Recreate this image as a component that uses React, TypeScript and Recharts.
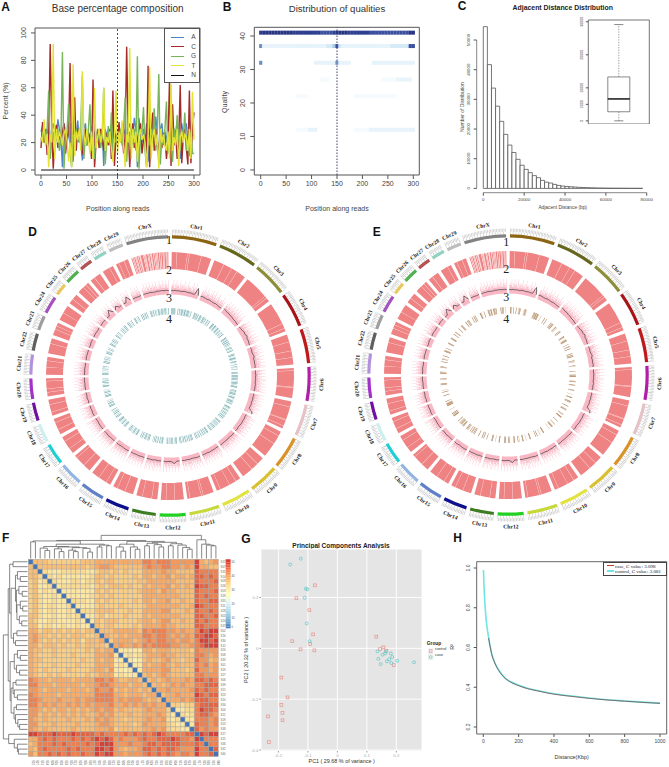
import React from "react";
import {
  LineChart, Line, XAxis, YAxis, ReferenceLine, ReferenceArea, ScatterChart, Scatter, BarChart, Bar,
  ComposedChart, PieChart, Pie, CartesianGrid,
} from "recharts";

/* ---------- Panel A ---------- */
const posA = [0,3,6,9,12,15,18,21,24,27,30,33,36,39,42,45,48,51,54,57,60,63,66,69,72,75,78,81,84,87,90,93,96,99,102,105,108,111,114,117,120,123,126,129,132,135,138,141,144,147,150,153,156,159,162,165,168,171,174,177,180,183,186,189,192,195,198,201,204,207,210,213,216,219,222,225,228,231,234,237,240,243,246,249,252,255,258,261,264,267,270,273,276,279,282,285,288,291,294,297,300];
const baseA = [28,32,24,20,30,26,12,30,34,28,22,37,30,24,2,34,28,20,30,18,34,6,30,24,36,20,28,7,30,34,22,28,20,32,16,28,22,30,26,20,30,3,30,24,28,20,32,14,30,22,26,32,24,20,30,26,12,30,34,28,22,38,30,2,38,28,20,30,18,34,6,30,24,36,20,39,28,5,30,34,22,28,20,32,14,28,22,30,26,36,20,8,34,24,28,34,20,30,24,26,25];
const baseC = [16,35,20,30,11,25,92,30,1,22,33,16,28,20,28,34,12,22,28,78,6,24,53,14,30,22,32,12,14,30,18,27,24,8,66,2,20,28,16,30,24,14,28,25,18,30,8,58,3,26,18,35,20,30,12,25,90,30,2,22,34,16,28,20,28,34,12,22,26,12,76,2,24,42,14,30,22,10,30,16,27,24,8,20,66,3,48,18,27,8,20,62,5,24,30,16,4,58,5,30,42];
const baseG = [22,26,30,18,30,58,8,24,28,16,26,30,14,22,86,1,22,28,48,12,2,26,18,30,25,20,34,69,8,24,18,30,48,14,24,8,26,20,30,16,24,60,4,22,32,18,42,12,24,20,26,22,30,18,30,53,6,24,28,16,26,30,14,83,1,22,28,46,14,2,26,18,30,24,45,14,26,70,4,24,18,30,50,12,26,18,6,30,20,40,24,14,30,24,42,14,22,10,28,12,12];
const baseT = [24,20,37,18,26,2,26,20,92,8,30,20,28,24,18,26,30,22,6,20,2,77,10,28,22,30,14,72,26,18,30,22,12,28,8,60,16,24,30,20,26,60,14,24,20,28,16,6,24,58,12,28,20,36,18,2,26,20,89,8,30,20,28,6,24,30,22,26,20,2,22,75,8,24,30,18,26,1,30,20,26,18,14,28,8,63,14,24,18,30,3,24,28,20,26,24,14,30,8,57,22];
const baseN = [0,0,0,0,0,0,0,0,0,0,0,0,0,0,0,0,0,0,0,0,0,0,0,0,0,0,0,0,0,0,0,0,0,0,0,0,0,0,0,0,0,0,0,0,0,0,0,0,0,0,0,0,0,0,0,0,0,0,0,0,0,0,0,0,0,0,0,0,0,0,0,0,0,0,0,0,0,0,0,0,0,0,0,0,0,0,0,0,0,0,0,0,0,0,0,0,0,0,0,0,0];
const tableA = posA.map((p, i) => ({ p, A: baseA[i], C: baseC[i], G: baseG[i], T: baseT[i], N: baseN[i] }));
const legendA = ["A", "C", "G", "T", "N"];
const colorsA = ["#4F86C6", "#A52A2A", "#78B45A", "#E4E234", "#111111"];

/* ---------- Panel B ---------- */
const posB = [0,6,12,18,24,30,36,42,48,54,60,66,72,78,84,90,96,102,108,114,120,126,132,138,144,150,156,162,168,174,180,186,192,198,204,210,216,222,228,234,240,246,252,258,264,270,276,282,288,294,300];
const qual41 = [8,9,9,9,9,9,9,9,9,9,9,8,8,8,8,8,8,8,8,8,7,7,7,7,8,9,9,9,9,8,8,8,8,8,8,8,7,7,7,7,7,7,7,7,7,7,7,7,7,9,9];
const qual37 = [5,1,1,1,1,1,1,1,1,1,1,1,1,1,1,1,1,1,1,1,1,1,2,2,3,7,2,1,1,1,1,1,1,1,1,1,1,1,1,1,1,1,1,2,2,2,2,2,2,7,7];
const qual32 = [5,0,0,0,0,0,0,0,0,0,0,0,0,0,0,0,0,0,1,1,1,1,1,1,1,5,1,1,1,1,0,0,0,0,0,0,0,1,1,1,1,1,1,1,1,1,1,1,1,1,1];
const qual27 = [0,0,0,0,0,0,0,0,0,0,0,0,0,0,0,0,0,0,0,0,0.5,0.5,0.5,0,0,0,0,0,0,0,0,0,0,0,0,0,0,0,0,0,0.5,0.5,0.5,0.5,0.5,1,1,1,1,1,0];
const qual22 = [0,0,0,0,0,0,0,0,0,0,0,0,0.5,0.5,0.5,0.5,0,0,0,0,0,0,0,0,0,0,0,0,0,0,0,0.5,0.5,0.5,0.5,0.5,0.5,0.5,0.5,0.5,0.5,0.5,0.5,0.5,0.5,0,0,0,0,0,0];
const qual12 = [0,0,0,0,0,0,0,0,0,0,0,0,0.5,0.5,0.5,0.5,1,1,1,0,0,0,0,0,0,0,0,0,0,0,0,0.5,0.5,0.5,0.5,0.5,1,1,1,1,1,1,1,1,1,1,1,1,1,1,1];
const rowsB: [number, number[]][] = [[41, qual41], [37, qual37], [32, qual32], [27, qual27], [22, qual22], [12, qual12]];
const tableB = rowsB.flatMap(([q, arr]) => arr.map((v, i) => ({ x: posB[i], y: q, v }))).filter((d) => d.v > 0);
const blueOf = (v: number) => {
  if (v >= 9) return "#27347F";
  if (v >= 8) return "#2E3F8F";
  if (v >= 7) return "#3A4F9E";
  if (v >= 5) return "#6F8FC4";
  if (v >= 3) return "#A8CBE6";
  if (v >= 2) return "#D4E9F6";
  if (v >= 1) return "#E6F3FB";
  return "#F4FAFD";
};

/* ---------- Panel C ---------- */
const histBins = [1000,3000,5000,7000,9000,11000,13000,15000,17000,19000,21000,23000,25000,27000,29000,31000,33000,35000,37000,39000,41000,43000,45000,47000,49000,51000,53000,55000,57000,59000,61000,63000,65000,67000,69000,71000,73000,75000,77000];
const histCounts = [54500,41700,33800,27700,22600,18200,14600,12100,9800,7800,6400,5300,4300,3600,2700,2100,1800,1350,1000,800,650,550,450,350,300,250,200,160,130,100,80,70,60,50,40,30,25,20,15];
const tableC = histBins.map((mid, i) => ({ mid, n: histCounts[i] }));
const boxStats = { min: 0, q1: 2750, med: 6650, q3: 13300, max: 29150 };
const tableBox = [{ x: 1, base: boxStats.q1, lower: boxStats.med - boxStats.q1, upper: boxStats.q3 - boxStats.med }];

/* ---------- Panels D / E ---------- */
const chromNames = ["Chr1","Chr2","Chr3","Chr4","Chr5","Chr6","Chr7","Chr8","Chr9","Chr10","Chr11","Chr12","Chr13","Chr14","Chr15","Chr16","Chr17","Chr18","Chr19","Chr20","Chr21","Chr22","Chr23","Chr24","Chr25","Chr26","Chr27","Chr28","Chr29","ChrX"];
const chromLens = [158,137,121,121,121,119,112,113,105,104,107,91,84,84,85,81,75,66,64,72,71,61,52,62,43,52,45,46,51,148];
const chromColors = ["#8B6414","#66661C","#8E8E3A","#A81418","#BE1A1C","#B01FA8","#E6C2C6","#D8922A","#D8C030","#E2E23E","#C6D83C","#22D022","#3E7C22","#0F0F8E","#5F80C8","#94B4E2","#1FCFD2","#CDEFEF","#6F10A0","#A032C8","#B292DA","#5F5F5F","#9E9E9E","#A452BC","#E8C85E","#52B052","#B25252","#8FD2C2","#BDBDBD","#828282"];
const densityStreaks: number[][] = [
  [20,62,70,118],[40,75,99],[95,104],[88,108],[30,66,92],[10,75,78],[22,74,77,100],[18,54],[30,60],[20,48,88],[42,50,96],[36,70],[22,60],[34,66],[18,52],[30,70],[22,56],[20,50],[14,44],[16,30,60],[30,55],[40],[24,38],[30],[20],[26,40],[18],[30],[12,34],
  [4,9,16,20,27,33,36,48,53,57,66,70,77,80,88,94,99,104,112,118,126,130,138,142],
];
const speck = [
  "3435242534315243425314253432415342531423","3425142534324153425314253423415324",
  "435243524153425341524352415342","345243514253425314253415243524","435342514352431524352415342535",
  "534253415243525341534253425345","5342534153425352435153425343","4352534253415352435342534253",
  "53425341534252435345342534","43525342534153425342534253","534253425315243535342534253",
  "43534253425341534253425","534253425352415342535","453425342534153425345","534253425341534253425",
  "43534253425341534253","5342534253425342535","4352534253425345","5342534253425342","453425342534253425",
  "534253425342534253","435342534253425","5342534153425","435242534153425","53425341534","3425341534253",
  "43524153425","342514253425","3425142534253","3425241534253415342531425341524253425",
];
const trace: number[][] = [
  [3.6,3.4,3.8,3.5,3.7,3.3,3.6,3.9,3.5,3.4,3.7,3.2,3.4,10,3.2],
  [3.4,3.8,3.5,3.2,3.6,3.4,3.1,3.5,3.2,2.9,3.0],
  [4.4,4.0,3.6,3.8,3.3,3.5,3.0,3.2,2.9,2.7],
  [2.9,3.2,3.4,4.2,3.7,4.8,3.6,3.9,3.5,3.3],
  [3.4,3.8,3.3,3.6,4.4,3.4,3.7,3.5,3.9,3.4],
  [3.7,3.4,3.9,3.5,3.8,3.3,4.0,3.6,3.8,3.4],
  [3.5,3.9,3.6,4.1,3.5,4.0,3.8,3.4,7.5,8.2],
  [3.5,3.3,3.7,3.4,3.8,3.5,3.2,3.6,3.4],
  [3.4,3.7,3.4,3.2,3.6,3.3,3.6,3.4],
  [3.5,3.2,3.6,3.4,3.8,3.3,3.6,3.4],
  [3.4,3.8,3.5,3.3,3.6,3.4,3.7,3.3],
  [3.6,3.3,5.6,3.7,3.4,3.8,3.5],
  [3.4,3.6,3.2,3.7,3.5,3.6],
  [3.6,3.3,3.7,3.4,3.6,3.3],
  [3.4,3.8,3.5,3.3,3.7,3.4],
  [3.6,3.3,3.5,3.8,3.4,3.6],
  [3.4,3.7,3.5,3.2,3.6],
  [3.5,3.8,3.4,3.6,3.4],
  [3.6,3.3,3.8,3.4,3.6],
  [3.4,3.7,3.4,3.8,3.5],
  [3.6,3.4,3.7,3.3,3.5],
  [3.4,3.8,3.5,3.6],
  [3.6,3.3,3.9,3.5],
  [3.5,3.8,3.4,3.7],
  [3.4,3.9,3.6],
  [3.6,3.2,8.2,3.4],
  [3.4,6.5,3.5,3.7],
  [3.8,3.4,8.5,3.5],
  [3.4,3.7,3.3,3.6],
  [3.4,3.8,3.6,3.9,3.5,3.3,3.8,3.6,3.9,3.5,3.8,3.4],
];
const barsD: number[][] = [
  [4,9,14,20,26,31,50,62,70,78,84,92,100,104,112,120,128,135,148],
  [2,8,12,20,30,34,46,52,60,72,80,86,94,110,118,128],
  [3,10,14,26,32,44,52,58,70,76,90,98,110],
  [6,12,20,28,40,46,54,64,72,84,92,104,112],
  [2,10,16,30,36,42,56,62,70,82,96,104,114],
  [4,8,14,24,34,40,50,58,70,78,86,94,106,112],
  [2,10,18,26,34,46,56,62,74,82,90,98,106],
  [6,12,20,32,38,50,58,68,78,84,96,106],
  [4,10,22,30,40,46,58,68,76,88,96],
  [2,8,18,26,38,44,56,70,78,88,98],
  [6,14,22,30,42,52,60,72,80,92,100],
  [4,10,18,32,40,50,60,70,80],
  [2,8,16,24,38,46,56,66,76],
  [6,14,22,32,40,52,60,72],
  [4,10,20,30,38,50,62,70,78],
  [8,16,24,36,44,56,64,72],
  [2,10,20,32,44,52,64],
  [6,14,24,32,44,54],
  [4,12,22,34,42,54],
  [2,8,20,30,42,50,62],
  [4,14,22,32,46,54,64],
  [6,16,26,34,44,52],
  [2,12,20,34,44],
  [6,14,26,36,46,54],
  [4,12,24,34],
  [2,14,22,34,44],
  [6,16,28,38],
  [4,12,26,36],
  [2,14,24,32,44],
  [8,14,22,30,44,52,66,72,80,90,96,104,114,122,130,140],
];
const barsE: number[][] = [
  [10,14,20,34,52,70,76,82,110,116,122,128],
  [12,18,22,28,32,38,42,48,70,100,116],
  [6,14,20,24,50,60,90,98],
  [4,10,30,36,40,44,70,86,90,104],
  [8,20,26,30,60,64,70,96,102],
  [4,30,34,38,42,74,80,104,108],
  [8,12,40,62,66,90,94,100],
  [6,30,34,38,72,78,96,100],
  [10,40,60,64,70,90],
  [20,24,50,72,84],
  [8,12,40,62,66,90,100],
  [4,8,12,44,48,70,74,80],
  [10,14,40,62,68],
  [8,30,40,44,70],
  [6,14,24,30,42,58,66,74],
  [4,10,20,26,34,40,56],
  [8,12,16,22,30,62],
  [6,10,14,18,22,26,40],
  [4,30,44],
  [8,14,46,50],
  [4,10,16,48,54],
  [6,24,30,50],
  [8,14,18,34],
  [4,10,44,48,52],
  [8,26,30],
  [4,30,34,38],
  [6,20,26,32],
  [4,18,24,30],
  [10,14,20,40],
  [6,12,16,26,30,44,48,54,60,66,100,106,112,118,136],
];

const GAP = 13.5;
const TOTAL = chromLens.reduce((a, b) => a + b, 0) + GAP * chromLens.length;
const START_DEG = 0.8;
type Seg = { v: number; fill: string; name?: string };
const withGaps = (f: (i: number) => Seg[]): Seg[] =>
  chromLens.flatMap((_, i) => [...f(i), { v: GAP, fill: "none", name: "" }]);
const marks = (len: number, at: number[], w: number, base: string, col: (k: number) => string): Seg[] => {
  const out: Seg[] = [];
  let c = 0;
  at.forEach((p, k) => {
    if (p >= len) return;
    if (p > c) out.push({ v: p - c, fill: base });
    const s = Math.max(p, c);
    const e = Math.min(p + w, len);
    if (e > s) out.push({ v: e - s, fill: col(k) });
    c = Math.max(c, e);
  });
  if (c < len) out.push({ v: len - c, fill: base });
  return out;
};
const everyMb = (len: number, step: number) => {
  const r: number[] = [];
  for (let p = 0; p < len; p += step) r.push(p);
  return r;
};
const ring1 = withGaps((i) => [{ v: chromLens[i], fill: chromColors[i], name: chromNames[i] }]);
const ringTicks = withGaps((i) => marks(chromLens[i], everyMb(chromLens[i], 10), 1.1, "none", () => "#8E8E8E"));
const ringDots = withGaps((i) => marks(chromLens[i], everyMb(chromLens[i], 5), 2.6, "none", () => "#CDCDCD"));
const ring2 = withGaps((i) =>
  marks(chromLens[i], densityStreaks[i], i === 29 ? 2.2 : 1, "#EF8384", () => (i === 29 ? "#FBD9D9" : "#F8B9B9"))
);
const ring3Solid = withGaps((i) => [{ v: chromLens[i], fill: "#F9B7C4" }]);
const specLayer = (level: number, fill: string) =>
  withGaps((i) => {
    const s = speck[i];
    const bin = chromLens[i] / s.length;
    const out: Seg[] = [];
    for (let k = 0; k < s.length; k++) {
      const on = Number(s[k]) >= level;
      const f = on ? fill : "none";
      if (out.length && out[out.length - 1].fill === f) out[out.length - 1].v += bin;
      else out.push({ v: bin, fill: f });
    }
    return out;
  });
const layers = [
  { r0: 86, r1: 88.2, d: specLayer(1, "#FABFCB") },
  { r0: 88.2, r1: 90.2, d: specLayer(3, "#FBC6D1") },
  { r0: 90.2, r1: 92.2, d: specLayer(4, "#FCCFD9") },
  { r0: 92.2, r1: 94.2, d: specLayer(4.5, "#FDD8E0") },
  { r0: 94.2, r1: 96.2, d: specLayer(5, "#FDE0E6") },
];
const tracePaths = chromLens.map((len, i) => {
  let before = 0;
  for (let k = 0; k < i; k++) before += chromLens[k] + GAP;
  return trace[i].map((v, k) => {
    const mb = before + (len * k) / (trace[i].length - 1);
    const th = ((START_DEG + (mb / TOTAL) * 360) * Math.PI) / 180;
    const r = 82 + v;
    return { x: r * Math.sin(th), y: r * Math.cos(th) };
  });
});
const ringNumbers = ["1", "2", "3", "4"];

/* ---------- Panel F ---------- */
const distRows = [
  "4","44","442","3412","34112","341211","3421121","34211211","342122112","3421221121","44211211212","431122111121","4412211211211",
  "55344343434344","56443434344433" + "4","5643434343424445","55344434334344443",
  "544334333333435455","54333433343333" + "55561","54433333333433" + "545511","54333433334333" + "5555121","54343333433334" + "55461101","54334343333343" + "455512111",
  "76554555545555" + "7767544554","77555455555455" + "67765554554","66545555455545" + "766745455454","76555545555555" + "7777554555455","77655565556566" + "77775656665454",
  "77565655656565" + "666755656565655","66545455454545" + "6566454444565553","66454545454544" + "5656444544555653" + "1","65454444544454" + "656544344456556212","66444544445444" + "5665444434655553211","65454444454444" + "555634444455656" + "32211",
  "99888988898888" + "787777878787898" + "777788","55787877787878" + "989867666787788" + "8987769","45777878777787" + "899966676678878" + "88877787","54787777878777" + "998965455688787" + "887666977","64778787877877" + "989966566678787" + "876776977" + "8",
];
const heatLevels = ["#FCEFB2","#FBE7A3","#FADB93","#F9CE86","#F7BE78","#F5AC6B","#F1985E","#EB8052","#E16647","#D2423A"];
const sampleIds = ["S22","S07","S31","S14","S09","S26","S03","S18","S35","S11","S28","S05","S20","S37","S02","S16","S30","S12","S24","S08","S33","S01","S19","S27","S06","S39","S15","S23","S10","S34","S04","S21","S29","S13","S38","S17","S25","S36","S32","S40"];
const colorbarTicks = [["50", 0.5], ["40", 3.3], ["30", 6.2], ["20", 9.1], ["10", 12], ["0", 13.8]] as [string, number][];
const cbStops = [[215,48,39],[244,109,67],[253,174,97],[254,224,144],[255,255,191],[224,243,248],[171,217,233],[116,173,209],[69,117,180]];
const cellsF = Array.from({ length: 40 }).flatMap((_, r) =>
  Array.from({ length: 40 }).map((__, c) => {
    if (r === c) return { x: c + 0.5, y: r + 0.5, fill: "#4575B4" };
    const a = Math.max(r, c), b = Math.min(r, c);
    return { x: c + 0.5, y: r + 0.5, fill: heatLevels[Number(distRows[a - 1][b])] };
  })
);
type Node = number | [number, Node, Node];
const topTree: Node = [1,
  [0.78,
    [0.76,
      [0.72, 0, 0],
      [0.62,
        [0.52,[0.45,0,[0.35,0,0]],[0.5,[0.42,0,[0.3,0,0]],[0.47,[0.36,0,[0.3,0,0]],[0.44,0,[0.28,0,0]]]]],
        [0.58,[0.5,0,0],[0.55,0,0]]]],
    [0.74,
      [0.62,[0.5,0,[0.32,0,0]],[0.5,0,[0.4,0,0]]],
      [0.7,
        [0.66,[0.55,0,0],[0.6,0,[0.5,0,0]]],
        [0.64,[0.55,0,0],[0.58,0,[0.48,0,[0.4,0,0]]]]]]],
  [0.81, 0, [0.62, 0, [0.58, 0, [0.55, 0, 0]]]],
];
const leftTree: Node = [1,
  [0.8,
    [0.74,
      [0.6, 0, 0],
      [0.68,
        [0.5,[0.42,0,[0.3,0,0]],[0.46,[0.36,0,[0.22,0,0]],[0.44,[0.3,0,[0.2,0,0]],[0.34,0,[0.24,0,0]]]]],
        [0.58,[0.44,0,0],[0.5,0,0]]]],
    [0.72,
      [0.55,[0.42,0,[0.3,0,0]],[0.46,0,[0.33,0,0]]],
      [0.68,
        [0.6,[0.48,0,0],[0.55,0,[0.42,0,0]]],
        [0.56,[0.46,0,0],[0.5,0,[0.4,0,[0.33,0,0]]]]]]],
  [0.78, 0, [0.55, 0, [0.42, 0, [0.38, 0, 0]]]],
];
const flatten = (root: Node) => {
  const segs: { a: number; b: number; h: number; ha: number; hb: number }[] = [];
  let n = 0;
  const go = (node: Node): { p: number; h: number } => {
    if (typeof node === "number") return { p: n++ + 0.5, h: 0 };
    const l = go(node[1]);
    const r = go(node[2]);
    segs.push({ a: l.p, b: r.p, h: node[0], ha: l.h, hb: r.h });
    return { p: (l.p + r.p) / 2, h: node[0] };
  };
  go(root);
  return segs;
};
const topSegs = flatten(topTree);
const leftSegs = flatten(leftTree);

/* ---------- Panel G ---------- */
const controlPC1 = [-0.076,-0.139,-0.095,-0.082,-0.153,-0.092,-0.125,-0.078,-0.19,-0.169,-0.19,-0.186,-0.186,-0.235,-0.232,0.132,0.145,0.156,0.166,0.191];
const controlPC2 = [0.248,0.197,0.15,0.055,0.028,0.017,-0.004,-0.008,-0.115,-0.193,-0.223,-0.254,-0.283,-0.268,-0.369,0.046,-0.003,0.004,-0.009,-0.066];
const casePC1 = [-0.124,-0.16,-0.107,-0.102,-0.111,-0.104,-0.094,0.136,0.139,0.153,0.162,0.164,0.181,0.186,0.176,0.168,0.183,0.147,0.203,0.26];
const casePC2 = [0.353,0.33,0.235,0.232,0.199,0.098,0.028,-0.012,-0.041,-0.025,-0.02,-0.012,-0.02,-0.034,-0.043,-0.051,-0.058,-0.062,-0.049,-0.055];
const tableControl = controlPC1.map((x, i) => ({ x, y: controlPC2[i] }));
const tableCase = casePC1.map((x, i) => ({ x, y: casePC2[i] }));

/* ---------- Panel H ---------- */
const distKb = [1,3,6,10,15,20,30,40,50,60,75,100,125,150,200,250,300,400,500,600,700,800,900,1000];
const r2Control = [0.99,0.93,0.87,0.81,0.75,0.71,0.65,0.6,0.56,0.535,0.505,0.47,0.445,0.43,0.41,0.395,0.385,0.367,0.356,0.346,0.337,0.331,0.325,0.32];
const r2Case = [null,null,null,null,null,null,0.648,0.598,0.558,0.533,0.503,0.468,0.444,0.428,0.408,0.393,0.383,0.365,0.354,0.344,0.336,0.33,0.324,0.319];
const tableH = distKb.map((d, i) => ({ d, ctrl: r2Control[i], cs: r2Case[i] }));

/* ---------- Helpers ---------- */
const SANS = "'Liberation Sans', Arial, sans-serif";
const SERIF = "'Liberation Serif', 'Times New Roman', serif";
const T = ({ x, y, s, size, rot = 0, weight = 400, color = "#333", family = SANS, left = false }: any) => (
  <div
    style={{
      position: "absolute", left: x, top: y, fontSize: size, fontWeight: weight, color, fontFamily: family,
      whiteSpace: "nowrap", lineHeight: 1, transform: `translate(${left ? "0" : "-50%"},-50%) rotate(${rot}deg)`,
    }}
  >
    {s}
  </div>
);
const Box = ({ left, top, w, h, children }: any) => (
  <div style={{ position: "absolute", left, top, width: w, height: h }}>{children}</div>
);
const rotTick = (size: number, off: number, fill = "#444") => (p: any) =>
  (
    <text transform={`translate(${p.x + off},${p.y}) rotate(-90)`} textAnchor="middle" fontSize={size} fill={fill} fontFamily={SANS}>
      {p.payload.value}
    </text>
  );

const Circos = ({ bars, dark, light }: any) => {
  const ring4 = withGaps((i) => marks(chromLens[i], bars[i], 3.4, "none", (k) => (k % 3 === 2 ? light : dark)));
  const pieProps = { dataKey: "v", cx: 160, cy: 160, startAngle: 90 - START_DEG, endAngle: -270 - START_DEG, stroke: "none", isAnimationActive: false, paddingAngle: 0, labelLine: false };
  const label = (p: any) => {
    if (!p.name) return <g key={p.index} />;
    const th = ((90 - p.midAngle) % 360 + 360) % 360;
    const rad = (th * Math.PI) / 180;
    const r = 151.5;
    const x = p.cx + r * Math.sin(rad);
    const y = p.cy - r * Math.cos(rad);
    const rot = th <= 90 ? th : th >= 270 ? th - 360 : th - 180;
    return (
      <text key={p.index} x={x} y={y} transform={`rotate(${rot} ${x} ${y})`} textAnchor="middle" dominantBaseline="central" fontSize={5.6} fontFamily={SERIF} fontWeight={700} fill="#222">
        {p.name}
      </text>
    );
  };
  return (
    <>
      <div style={{ position: "absolute", left: 0, top: 0 }}>
        <PieChart width={320} height={320} margin={{ top: 0, right: 0, bottom: 0, left: 0 }}>
          <Pie {...pieProps} data={ringDots} innerRadius={143.2} outerRadius={146.6} />
          <Pie {...pieProps} data={ringTicks} innerRadius={141} outerRadius={143} />
          <Pie {...pieProps} data={ring1} innerRadius={137.6} outerRadius={140.8} label={label} />
          <Pie {...pieProps} data={ring2} innerRadius={107} outerRadius={124} />
          <Pie {...pieProps} data={ring3Solid} innerRadius={81.5} outerRadius={86} />
          {layers.map((l, i) => (
            <Pie key={i} {...pieProps} data={l.d} innerRadius={l.r0} outerRadius={l.r1} />
          ))}
          <Pie {...pieProps} data={ring4} innerRadius={61.5} outerRadius={68} />
        </PieChart>
      </div>
      <div style={{ position: "absolute", left: 0, top: 0 }}>
        <ScatterChart width={320} height={320} margin={{ top: 0, right: 0, bottom: 0, left: 0 }}>
          <XAxis type="number" dataKey="x" domain={[-160, 160]} hide />
          <YAxis type="number" dataKey="y" domain={[-160, 160]} hide />
          {tracePaths.map((d, i) => (
            <Scatter key={i} data={d} line={{ stroke: "#222", strokeWidth: 0.6 }} shape={() => <g />} isAnimationActive={false} />
          ))}
        </ScatterChart>
      </div>
    </>
  );
};

export default function App() {
  const cb = Array.from({ length: 42 }).map((_, i) => {
    const t = (i / 42) * (cbStops.length - 1);
    const k = Math.floor(t);
    const f = t - k;
    const a = cbStops[k], b = cbStops[Math.min(k + 1, cbStops.length - 1)];
    return { y1: (i * 14) / 42, y2: ((i + 1) * 14) / 42, fill: `rgb(${a.map((v, j) => Math.round(v + (b[j] - v) * f)).join(",")})` };
  });
  return (
    <div style={{ position: "absolute", left: 0, top: 0, width: 669, height: 767, background: "#fff", overflow: "hidden", fontFamily: SANS }}>
      {/* Panel letters */}
      {[["A", 5.7, 7], ["B", 227, 7], ["C", 462, 6], ["D", 32.7, 232], ["E", 376.7, 232], ["F", 5.7, 538], ["G", 246, 539], ["H", 457.7, 538]].map((l: any) => (
        <T key={l[0]} x={l[1]} y={l[2]} s={l[0]} size={12} weight={700} color="#111" />
      ))}

      {/* A */}
      <T x={117.7} y={9} s="Base percentage composition" size={10} color="#333" />
      <T x={117.7} y={208} s="Position along reads" size={7} color="#444" />
      <T x={5} y={101} s="Percent (%)" size={7} rot={-90} color="#444" />
      <Box left={0} top={0} w={205} h={205}>
        <LineChart width={205} height={205} data={tableA} margin={{ top: 28, right: 5, left: 0, bottom: 0 }}>
          <XAxis type="number" dataKey="p" domain={[-11.8, 311.8]} ticks={[0, 50, 100, 150, 200, 250, 300]} height={30} tickSize={4} axisLine={false} tick={{ fontSize: 7, fill: "#444" }} stroke="#555" allowDataOverflow interval={0} />
          <YAxis type="number" domain={[-3.65, 103.6]} ticks={[0, 20, 40, 60, 80, 100]} width={35} tickSize={4} axisLine={false} tick={rotTick(7, -3.3)} stroke="#555" allowDataOverflow interval={0} />
          {legendA.map((k, i) => (
            <Line key={k} dataKey={k} stroke={colorsA[i]} strokeWidth={k === "N" ? 1.2 : 1.4} dot={false} isAnimationActive={false} />
          ))}
          <ReferenceLine x={150} stroke="#222" strokeDasharray="2 2" strokeWidth={0.8} />
          <ReferenceArea x1={-11.8} x2={311.8} y1={-3.65} y2={103.6} fill="none" stroke="#555" strokeWidth={1} />
        </LineChart>
      </Box>
      <div style={{ position: "absolute", left: 164, top: 28, width: 36, height: 55, background: "#fff", border: "1px solid #555", boxSizing: "border-box" }} />
      {legendA.map((k, i) => (
        <React.Fragment key={k}>
          <div style={{ position: "absolute", left: 171, top: 36.5 + i * 9.5, width: 13, height: 1.3, background: colorsA[i] }} />
          <T x={193.5} y={37 + i * 9.5} s={k} size={6.5} color="#444" />
        </React.Fragment>
      ))}

      {/* B */}
      <T x={337} y={9} s="Distribution of qualities" size={9.6} color="#333" />
      <T x={337} y={208} s="Position along reads" size={7} color="#444" />
      <T x={224} y={101.7} s="Quality" size={7} rot={-90} color="#444" />
      <Box left={220} top={0} w={205} h={205}>
        <ScatterChart width={205} height={205} margin={{ top: 27.3, right: 5.7, left: 0, bottom: 0 }}>
          <XAxis type="number" dataKey="x" domain={[-12.6, 311.8]} ticks={[0, 50, 100, 150, 200, 250, 300]} height={30} tickSize={4} axisLine={false} tick={{ fontSize: 7, fill: "#444" }} stroke="#555" allowDataOverflow interval={0} />
          <YAxis type="number" dataKey="y" domain={[-1.5, 42.6]} ticks={[0, 10, 20, 30, 40]} width={34.3} tickSize={4} axisLine={false} tick={rotTick(7, -3.3)} stroke="#555" allowDataOverflow interval={0} />
          <Scatter data={tableB} isAnimationActive={false} shape={(p: any) => <rect x={p.cx - 1.6} y={p.cy - 2} width={3.2} height={4} fill={blueOf(p.payload.v)} />} />
          <ReferenceLine x={150} stroke="#3A4070" strokeDasharray="1.5 1.5" strokeWidth={1} />
          <ReferenceArea x1={-12.6} x2={311.8} y1={-1.5} y2={42.6} fill="none" stroke="#555" strokeWidth={1} />
        </ScatterChart>
      </Box>

      {/* C */}
      <T x={562.7} y={8} s="Adjacent Distance Distribution" size={6.9} weight={700} color="#222" />
      <T x={562.7} y={208} s="Adjacent Distance (bp)" size={4.8} color="#444" />
      <T x={462} y={107} s="Number of Distribution" size={5} rot={-90} color="#444" />
      <Box left={440} top={0} w={215} h={210}>
        <BarChart width={215} height={210} data={tableC} margin={{ top: 25, right: 5, left: 0, bottom: 0 }}>
          <XAxis type="number" dataKey="mid" domain={[-3235, 81600]} ticks={[0, 20000, 40000, 60000, 80000]} height={17.3} tickSize={3} axisLine={false} tick={{ fontSize: 4.4, fill: "#444" }} stroke="#555" allowDataOverflow interval={0} />
          <YAxis type="number" domain={[-1450, 55060]} ticks={[0, 10000, 20000, 30000, 40000, 50000]} width={36.7} tickSize={3} axisLine={false} tick={rotTick(4.4, -1.5)} stroke="#555" allowDataOverflow interval={0} />
          <Bar dataKey="n" barSize={4.08} fill="#fff" stroke="#555" strokeWidth={0.8} isAnimationActive={false} />
          <ReferenceLine segment={[{ x: 0, y: -1450 }, { x: 80000, y: -1450 }]} stroke="#555" strokeWidth={0.7} ifOverflow="visible" />
          <ReferenceLine segment={[{ x: -3235, y: 0 }, { x: -3235, y: 50000 }]} stroke="#555" strokeWidth={0.7} ifOverflow="visible" />
        </BarChart>
      </Box>
      <Box left={565} top={12} w={90} h={112}>
        <ComposedChart width={90} height={112} data={tableBox} margin={{ top: 8, right: 5.7, left: 0, bottom: 0 }}>
          <XAxis type="number" dataKey="x" domain={[0, 2]} hide />
          <YAxis type="number" domain={[-951, 30540]} ticks={[0, 5000, 10000, 20000, 30000]} width={23.3} tickSize={2.5} axisLine={false} tick={rotTick(3.6, -1)} stroke="#555" allowDataOverflow interval={0} />
          <ReferenceArea x1={0} x2={2} y1={-951} y2={30540} fill="#fff" stroke="#666" strokeWidth={0.9} />
          <Bar dataKey="base" stackId="b" barSize={22} fill="none" stroke="none" isAnimationActive={false} />
          <Bar dataKey="lower" stackId="b" barSize={22} fill="#fff" stroke="#555" strokeWidth={0.7} isAnimationActive={false} />
          <Bar dataKey="upper" stackId="b" barSize={22} fill="#fff" stroke="#555" strokeWidth={0.7} isAnimationActive={false} />
          <ReferenceLine segment={[{ x: 0.64, y: boxStats.med }, { x: 1.36, y: boxStats.med }]} stroke="#111" strokeWidth={1.2} />
          <ReferenceLine segment={[{ x: 1, y: boxStats.q3 }, { x: 1, y: boxStats.max }]} stroke="#555" strokeWidth={0.6} strokeDasharray="1.3 1.3" />
          <ReferenceLine segment={[{ x: 1, y: boxStats.min }, { x: 1, y: boxStats.q1 }]} stroke="#555" strokeWidth={0.6} strokeDasharray="1.3 1.3" />
          <ReferenceLine segment={[{ x: 0.85, y: boxStats.max }, { x: 1.15, y: boxStats.max }]} stroke="#555" strokeWidth={0.7} />
          <ReferenceLine segment={[{ x: 0.85, y: boxStats.min }, { x: 1.15, y: boxStats.min }]} stroke="#555" strokeWidth={0.7} />
        </ComposedChart>
      </Box>

      {/* D */}
      <Box left={9.5} top={216} w={320} h={320}>
        <Circos bars={barsD} dark="#4F9498" light="#A5CFD0" />
      </Box>
      {ringNumbers.map((s, i) => (
        <T key={s} x={169} y={[240, 270, 298, 319][i]} s={s} size={12} family={SERIF} color="#222" />
      ))}

      {/* E */}
      <Box left={347.5} top={215} w={320} h={320}>
        <Circos bars={barsE} dark="#9C6A3C" light="#D2B08E" />
      </Box>
      {ringNumbers.map((s, i) => (
        <T key={s} x={506.3} y={[242, 269, 297, 319][i]} s={s} size={12} family={SERIF} color="#222" />
      ))}

      {/* F */}
      <Box left={0} top={530} w={235} h={237}>
        <ScatterChart width={235} height={237} margin={{ top: 0, right: 0, bottom: 0, left: 0 }}>
          <XAxis type="number" dataKey="x" domain={[-5.96, 43.52]} hide allowDataOverflow />
          <YAxis type="number" dataKey="y" domain={[-5.94, 42.13]} reversed hide allowDataOverflow />
          <Scatter data={cellsF} isAnimationActive={false} shape={(p: any) => <rect x={p.cx - 2.37} y={p.cy - 2.46} width={4.75} height={4.93} fill={p.payload.fill} stroke="#A9A49C" strokeWidth={0.45} />} />
          {cb.map((c, i) => (
            <ReferenceArea key={i} x1={41.56} x2={42.6} y1={c.y1} y2={c.y2} fill={c.fill} stroke="none" fillOpacity={1} />
          ))}
          <Scatter data={colorbarTicks.map(([s, y]) => ({ x: 43, y, s }))} isAnimationActive={false} shape={(p: any) => <text x={p.cx - 1} y={p.cy + 1} fontSize={2.8} fill="#555">{p.payload.s}</text>} />
          <Scatter data={sampleIds.map((s, i) => ({ x: 40.9, y: i + 0.5, s }))} isAnimationActive={false} shape={(p: any) => <text x={p.cx - 2} y={p.cy + 1} fontSize={2.8} fill="#666">{p.payload.s}</text>} />
          <Scatter data={sampleIds.map((s, i) => ({ x: i + 0.5, y: 40.5, s }))} isAnimationActive={false} shape={(p: any) => <text transform={`translate(${p.cx + 1},${p.cy + 1}) rotate(90)`} fontSize={2.8} fill="#666">{p.payload.s}</text>} />
          {topSegs.flatMap((g, i) => {
            const Y = (h: number) => -0.15 - h * 4.7;
            return [
              <ReferenceLine key={`t${i}a`} segment={[{ x: g.a, y: Y(g.ha) }, { x: g.a, y: Y(g.h) }]} stroke="#555" strokeWidth={0.7} />,
              <ReferenceLine key={`t${i}b`} segment={[{ x: g.b, y: Y(g.hb) }, { x: g.b, y: Y(g.h) }]} stroke="#555" strokeWidth={0.7} />,
              <ReferenceLine key={`t${i}c`} segment={[{ x: g.a, y: Y(g.h) }, { x: g.b, y: Y(g.h) }]} stroke="#555" strokeWidth={0.7} />,
            ];
          })}
          {leftSegs.flatMap((g, i) => {
            const X = (h: number) => -0.15 - h * 5.1;
            return [
              <ReferenceLine key={`l${i}a`} segment={[{ x: X(g.ha), y: g.a }, { x: X(g.h), y: g.a }]} stroke="#555" strokeWidth={0.7} />,
              <ReferenceLine key={`l${i}b`} segment={[{ x: X(g.hb), y: g.b }, { x: X(g.h), y: g.b }]} stroke="#555" strokeWidth={0.7} />,
              <ReferenceLine key={`l${i}c`} segment={[{ x: X(g.h), y: g.a }, { x: X(g.h), y: g.b }]} stroke="#555" strokeWidth={0.7} />,
            ];
          })}
        </ScatterChart>
      </Box>

      {/* G */}
      <T x={341} y={545.7} s="Principal Components Analysis" size={6.5} weight={700} color="#222" />
      <T x={341.7} y={762} s="PC1 ( 29.68 % of variance )" size={5.4} color="#333" />
      <T x={246.7} y={650} s="PC2 ( 20.32 % of variance )" size={5.4} rot={-90} color="#333" />
      <Box left={235} top={530} w={190} h={237}>
        <ScatterChart width={190} height={237} margin={{ top: 19, right: 3, left: 0, bottom: 0 }}>
          <CartesianGrid fill="#E5E5E5" stroke="#fff" strokeWidth={0.9} />
          <XAxis type="number" dataKey="x" domain={[-0.259, 0.287]} ticks={[-0.2, -0.1, 0, 0.1, 0.2]} height={16} tickSize={1.5} axisLine={false} tickMargin={1} tick={{ fontSize: 4.4, fill: "#AAA" }} stroke="#999" allowDataOverflow interval={0} />
          <YAxis type="number" dataKey="y" domain={[-0.404, 0.391]} ticks={[-0.4, -0.2, 0, 0.2]} width={26} tickSize={1.5} axisLine={false} tickMargin={1} tick={{ fontSize: 4.4, fill: "#AAA" }} stroke="#999" allowDataOverflow interval={0} />
          <Scatter data={tableControl} isAnimationActive={false} shape={(p: any) => <rect x={p.cx - 1.4} y={p.cy - 1.4} width={2.8} height={2.8} fill="none" stroke="#E8938C" strokeWidth={0.7} />} />
          <Scatter data={tableCase} isAnimationActive={false} shape={(p: any) => <circle cx={p.cx} cy={p.cy} r={1.5} fill="none" stroke="#5CC6C6" strokeWidth={0.7} />} />
        </ScatterChart>
      </Box>
      <T x={434} y={644} s="Group" size={4.8} weight={700} color="#222" />
      <svg style={{ position: "absolute", left: 427, top: 647 }} width={8} height={13}>
        <rect x={1} y={1.4} width={5.4} height={5.4} fill="#EDEDED" />
        <rect x={1} y={7.4} width={5.4} height={5.4} fill="#EDEDED" />
        <rect x={2.4} y={2.8} width={2.6} height={2.6} fill="none" stroke="#E8938C" strokeWidth={0.6} />
        <circle cx={3.7} cy={10.1} r={1.4} fill="none" stroke="#5CC6C6" strokeWidth={0.6} />
      </svg>
      <T x={435} y={650.2} s="control" size={3.8} color="#333" left />
      <T x={435} y={656.4} s="case" size={3.8} color="#333" left />

      {/* H */}
      <T x={571.7} y={757.5} s="Distance(Kbp)" size={5.4} color="#333" />
      <T x={453} y={647} s="R²" size={5.4} rot={-90} color="#333" />
      <Box left={445} top={530} w={224} h={237}>
        <LineChart width={224} height={237} data={tableH} margin={{ top: 31.7, right: 2.3, left: 0, bottom: 0 }}>
          <XAxis type="number" dataKey="d" domain={[-37.4, 1038]} ticks={[0, 200, 400, 600, 800, 1000]} height={33} tickSize={3} axisLine={false} tick={{ fontSize: 5, fill: "#444" }} stroke="#555" allowDataOverflow interval={0} />
          <YAxis type="number" domain={[0.1648, 1.0317]} ticks={[0.2, 0.4, 0.6, 0.8, 1]} tickFormatter={(v: number) => v.toFixed(1)} width={31.7} tickSize={3} axisLine={false} tick={(p: any) => (
            <text transform={`translate(${p.x - 1.5},${p.y}) rotate(-90)`} textAnchor="middle" fontSize={5} fill="#444">{Number(p.payload.value).toFixed(1)}</text>
          )} stroke="#555" allowDataOverflow interval={0} />
          <Line dataKey="ctrl" stroke="#6FE6E6" strokeWidth={1.6} dot={false} isAnimationActive={false} type="monotone" />
          <Line dataKey="cs" stroke="#7A3030" strokeOpacity={0.75} strokeWidth={0.9} dot={false} isAnimationActive={false} type="monotone" />
          <ReferenceArea x1={-37.4} x2={1038} y1={0.1648} y2={1.0317} fill="none" stroke="#555" strokeWidth={0.9} />
        </LineChart>
      </Box>
      <div style={{ position: "absolute", left: 603.3, top: 562.3, width: 63.4, height: 13.4, background: "#fff", border: "0.8px solid #444", boxSizing: "border-box" }} />
      <div style={{ position: "absolute", left: 607, top: 565.3, width: 7, height: 0.8, background: "#C0392B" }} />
      <div style={{ position: "absolute", left: 607, top: 570, width: 7, height: 1.6, background: "#6FE6E6" }} />
      <T x={615} y={565.7} s="case, C value: 3.098" size={5} family={SERIF} color="#222" left />
      <T x={615} y={570.8} s="control, C value: 3.081" size={5} family={SERIF} color="#222" left />
    </div>
  );
}
